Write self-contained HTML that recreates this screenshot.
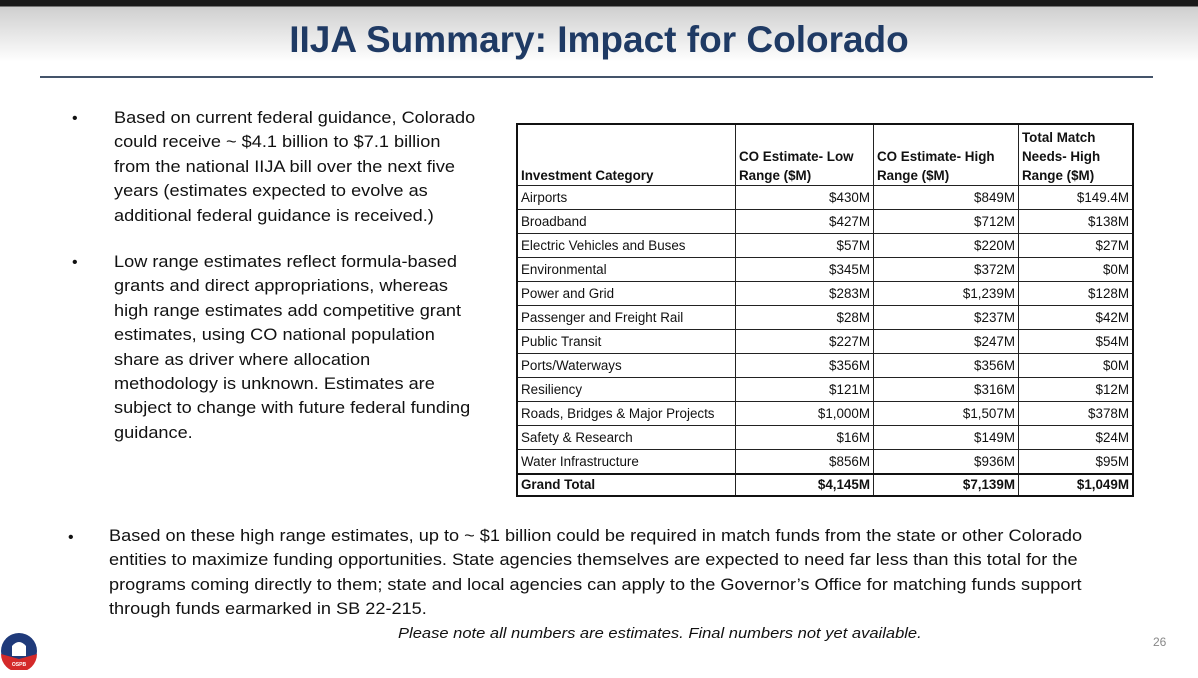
<!DOCTYPE html>
<html><head><style>
body{margin:0;width:1198px;height:678px;position:relative;background:#fff;font-family:"Liberation Sans",Arial,sans-serif;overflow:hidden}
.top{position:absolute;left:0;top:0;width:1198px;height:70px;background:linear-gradient(#1a1a1a 0,#1a1a1a 6px,#cfcfcf 7px,#fff 62px)}
h1{position:absolute;left:0;width:1198px;top:19px;margin:0;text-align:center;font-size:37px;color:#1f3a64;font-weight:bold;letter-spacing:0}
.rule{position:absolute;left:40px;top:76px;width:1113px;height:2px;background:#44546a}
.p{position:absolute;font-size:16.5px;line-height:24.4px;color:#111;white-space:nowrap;transform:scaleX(1.1);transform-origin:0 0}
.b{position:absolute;font-size:16px;color:#111}
table{position:absolute;left:516px;top:123px;border-collapse:collapse;font-size:13.4px;color:#111;border:2px solid #111}
td{border:1px solid #222;padding:0 3px;height:23px;line-height:23px}
td.n{text-align:right}
th{border:1px solid #222;font-weight:bold;text-align:left;vertical-align:bottom;padding:0 3px;line-height:19px;height:60px}
tr.g td{font-weight:bold;border-top:2px solid #111;height:20px;line-height:20px}
.note{position:absolute;left:398px;top:626px;font-style:italic;font-size:14.5px;color:#111;white-space:nowrap;transform:scaleX(1.14);transform-origin:0 0}
</style></head><body>
<div class="top"></div>
<h1>IIJA Summary: Impact for Colorado</h1>
<div class="rule"></div>
<div class="b" style="left:72px;top:110px">•</div>
<div class="p" style="left:114px;top:106px">Based on current federal guidance, Colorado<br>could receive ~ $4.1 billion to $7.1 billion<br>from the national IIJA bill over the next five<br>years (estimates expected to evolve as<br>additional federal guidance is received.)</div>
<div class="b" style="left:72px;top:254px">•</div>
<div class="p" style="left:114px;top:250px">Low range estimates reflect formula-based<br>grants and direct appropriations, whereas<br>high range estimates add competitive grant<br>estimates, using CO national population<br>share as driver where allocation<br>methodology is unknown. Estimates are<br>subject to change with future federal funding<br>guidance.</div>
<table>
<tr><th style="width:211px">Investment Category</th><th style="width:131px">CO Estimate- Low Range ($M)</th><th style="width:138px">CO Estimate- High Range ($M)</th><th style="width:107px">Total Match Needs- High Range ($M)</th></tr>
<tr><td>Airports</td><td class="n">$430M</td><td class="n">$849M</td><td class="n">$149.4M</td></tr>
<tr><td>Broadband</td><td class="n">$427M</td><td class="n">$712M</td><td class="n">$138M</td></tr>
<tr><td>Electric Vehicles and Buses</td><td class="n">$57M</td><td class="n">$220M</td><td class="n">$27M</td></tr>
<tr><td>Environmental</td><td class="n">$345M</td><td class="n">$372M</td><td class="n">$0M</td></tr>
<tr><td>Power and Grid</td><td class="n">$283M</td><td class="n">$1,239M</td><td class="n">$128M</td></tr>
<tr><td>Passenger and Freight Rail</td><td class="n">$28M</td><td class="n">$237M</td><td class="n">$42M</td></tr>
<tr><td>Public Transit</td><td class="n">$227M</td><td class="n">$247M</td><td class="n">$54M</td></tr>
<tr><td>Ports/Waterways</td><td class="n">$356M</td><td class="n">$356M</td><td class="n">$0M</td></tr>
<tr><td>Resiliency</td><td class="n">$121M</td><td class="n">$316M</td><td class="n">$12M</td></tr>
<tr><td>Roads, Bridges &amp; Major Projects</td><td class="n">$1,000M</td><td class="n">$1,507M</td><td class="n">$378M</td></tr>
<tr><td>Safety &amp; Research</td><td class="n">$16M</td><td class="n">$149M</td><td class="n">$24M</td></tr>
<tr><td>Water Infrastructure</td><td class="n">$856M</td><td class="n">$936M</td><td class="n">$95M</td></tr>
<tr class="g"><td>Grand Total</td><td class="n">$4,145M</td><td class="n">$7,139M</td><td class="n">$1,049M</td></tr>
</table>
<div class="b" style="left:68px;top:529px">•</div>
<div class="p" style="left:109px;top:524px">Based on these high range estimates, up to ~ $1 billion could be required in match funds from the state or other Colorado<br>entities to maximize funding opportunities. State agencies themselves are expected to need far less than this total for the<br>programs coming directly to them; state and local agencies can apply to the Governor’s Office for matching funds support<br>through funds earmarked in SB 22-215.</div>
<div class="note">Please note all numbers are estimates. Final numbers not yet available.</div>
<div style="position:absolute;left:1153px;top:635px;font-size:12px;color:#888">26</div>
<svg style="position:absolute;left:0;top:632px" width="38" height="38" viewBox="0 0 38 38">
<circle cx="19" cy="19" r="18" fill="#1f3a7a"/>
<path d="M1 22 L19 27 L37 22 A18 18 0 0 1 1 22Z" fill="#d42a2a"/>
<path d="M12 24 V14 Q19 6 26 14 V24Z" fill="#fff"/>
<text x="19" y="34" font-size="5" fill="#fff" text-anchor="middle" font-weight="bold">OSPB</text>
</svg>
</body></html>
